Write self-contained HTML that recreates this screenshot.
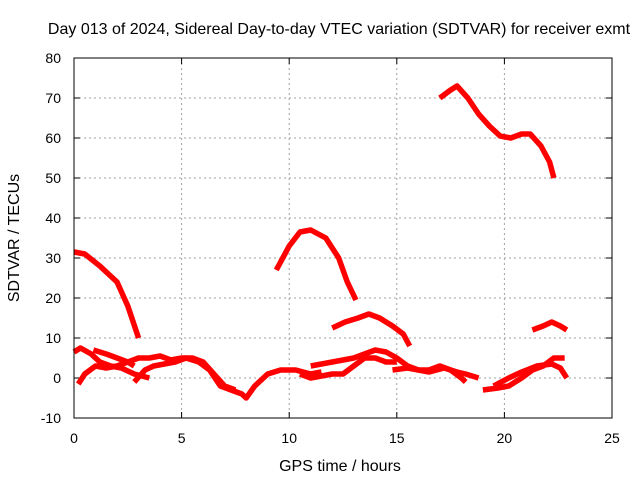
<!DOCTYPE html>
<html><head><meta charset="utf-8"><style>
body{margin:0;background:#fff;font-family:"Liberation Sans",sans-serif}
svg text{font-family:"Liberation Sans",sans-serif;font-size:14px;fill:#000}
svg text.big{font-size:16px}
</style></head><body>
<svg width="640" height="480" xmlns="http://www.w3.org/2000/svg">
<rect width="640" height="480" fill="#fff"/>
<text class="big" x="339" y="34" text-anchor="middle">Day 013 of 2024, Sidereal Day-to-day VTEC variation (SDTVAR) for receiver exmt</text>
<g id="grid"></g>
<g id="axes"></g>
<g id="series"></g>
<rect x="74" y="58" width="538" height="360" fill="none" stroke="#000" stroke-width="1"/>
<text class="big" x="340" y="471" text-anchor="middle">GPS time / hours</text>
<text class="big" transform="translate(19,238) rotate(-90)" text-anchor="middle">SDTVAR / TECUs</text>
</svg>
<script>
const xTicks=[0,5,10,15,20,25];
const yTicks=[-10,0,10,20,30,40,50,60,70,80];
const trackA_h=[0,0.5,1.2,2,2.5,3];const trackA_v=[31.5,31,28,24,18,10];
const trackB_h=[9.4,10,10.5,11,11.7,12.3,12.7,13.1];const trackB_v=[27,33,36.5,37,35,30,24,19.5];
const trackC_h=[17,17.5,17.8,18.3,18.8,19.3,19.8,20.3,20.8,21.2,21.7,22.1,22.3];const trackC_v=[70,72,73,70,66,63,60.5,60,61,61,58,54,50];
const trackD_h=[12,12.6,13.2,13.7,14.2,14.8,15.3,15.6];const trackD_v=[12.5,14,15,16,15,13,11,8];
const trackE_h=[21.3,21.8,22.2,22.6,22.9];const trackE_v=[12,13,14,13,12];
const trackF_h=[0,0.3,0.8,1.2,1.7,2.2,2.8,3.5];const trackF_v=[6.5,7.5,6,4,3,2.5,1,0];
const trackG_h=[0.9,1.5,2,2.5,2.8];const trackG_v=[7,6,5,4,3];
const trackI_h=[0.2,0.5,1,1.5,2,2.5,3,3.5,4,4.5,5,5.5,6,6.5,7,7.5];const trackI_v=[-1.5,1,3,2.5,3,4,5,5,5.5,4.5,5,5,4,1,-2,-3];
const trackJ_h=[2.8,3.3,3.7,4.2,4.7,5.2,5.8,6.3,6.8,7.3,7.8,8,8.4,9,9.6,10.3,11,11.5];const trackJ_v=[-1,2,3,3.5,4,5,4,2,-2,-3,-4,-5,-2,1,2,2,1,1.5];
const trackK_h=[11,12,12.5,13,13.5,14,14.5,15,15.5,16,16.5,17,17.5,18,18.2];const trackK_v=[3,4,4.5,5,6,7,6.5,5,3,2,2,3,2,0,-1];
const trackL_h=[10.5,11,12,12.5,13,13.5,14,14.5,15];const trackL_v=[1,0,1,1,3,5,5,4,4];
const trackM_h=[14.8,15.5,16.5,17.2,17.8,18.2,18.8];const trackM_v=[2,2.5,1.5,2.5,1.5,1,0];
const trackN_h=[19,19.7,20.2,20.8,21.3,21.8,22.3,22.8];const trackN_v=[-3,-2.5,-2,0,2,3,5,5];
const trackO_h=[19.5,20.2,20.8,21.5,22.2,22.6,22.9];const trackO_v=[-2,0,1.5,3,3.5,2.5,0];
const tracks=[[trackA_h,trackA_v],[trackB_h,trackB_v],[trackC_h,trackC_v],[trackD_h,trackD_v],[trackE_h,trackE_v],[trackF_h,trackF_v],[trackG_h,trackG_v],[trackI_h,trackI_v],[trackJ_h,trackJ_v],[trackK_h,trackK_v],[trackL_h,trackL_v],[trackM_h,trackM_v],[trackN_h,trackN_v],[trackO_h,trackO_v]];
const X=h=>74+h*(538/25);
const Y=v=>378-v*4;
const NS="http://www.w3.org/2000/svg";
function mk(t,a,p){const e=document.createElementNS(NS,t);for(const k in a)e.setAttribute(k,a[k]);p.appendChild(e);return e;}
const grid=document.getElementById('grid'),axes=document.getElementById('axes'),ser=document.getElementById('series');
xTicks.forEach(t=>{const x=X(t);
 if(t>0&&t<25){const g=mk('line',{x1:x,x2:x,y1:58,y2:418,stroke:'#a0a0a0','stroke-dasharray':'2,3'},grid);
 
 }
 mk('line',{x1:x,x2:x,y1:418,y2:412,stroke:'#000'},axes);mk('line',{x1:x,x2:x,y1:58,y2:64,stroke:'#000'},axes);
 const l=mk('text',{x:x,y:443,'text-anchor':'middle'},axes);l.textContent=t;
 
 });
yTicks.forEach(t=>{const y=Y(t);
 if(t>-10&&t<80){const g=mk('line',{x1:74,x2:612,y1:y,y2:y,stroke:'#a0a0a0','stroke-dasharray':'2,3'},grid);
 
 }
 mk('line',{x1:74,x2:80,y1:y,y2:y,stroke:'#000'},axes);mk('line',{x1:612,x2:606,y1:y,y2:y,stroke:'#000'},axes);
 const l=mk('text',{x:61,y:y+5,'text-anchor':'end'},axes);l.textContent=t;
 
 });
tracks.forEach(([h,v])=>{
 const p=mk('polyline',{points:h.map((hh,i)=>X(hh)+','+Y(v[i])).join(' '),fill:'none',stroke:'#ff0000','stroke-width':5.5,'stroke-linejoin':'round'},ser);
 
 
});
</script>
</body></html>
